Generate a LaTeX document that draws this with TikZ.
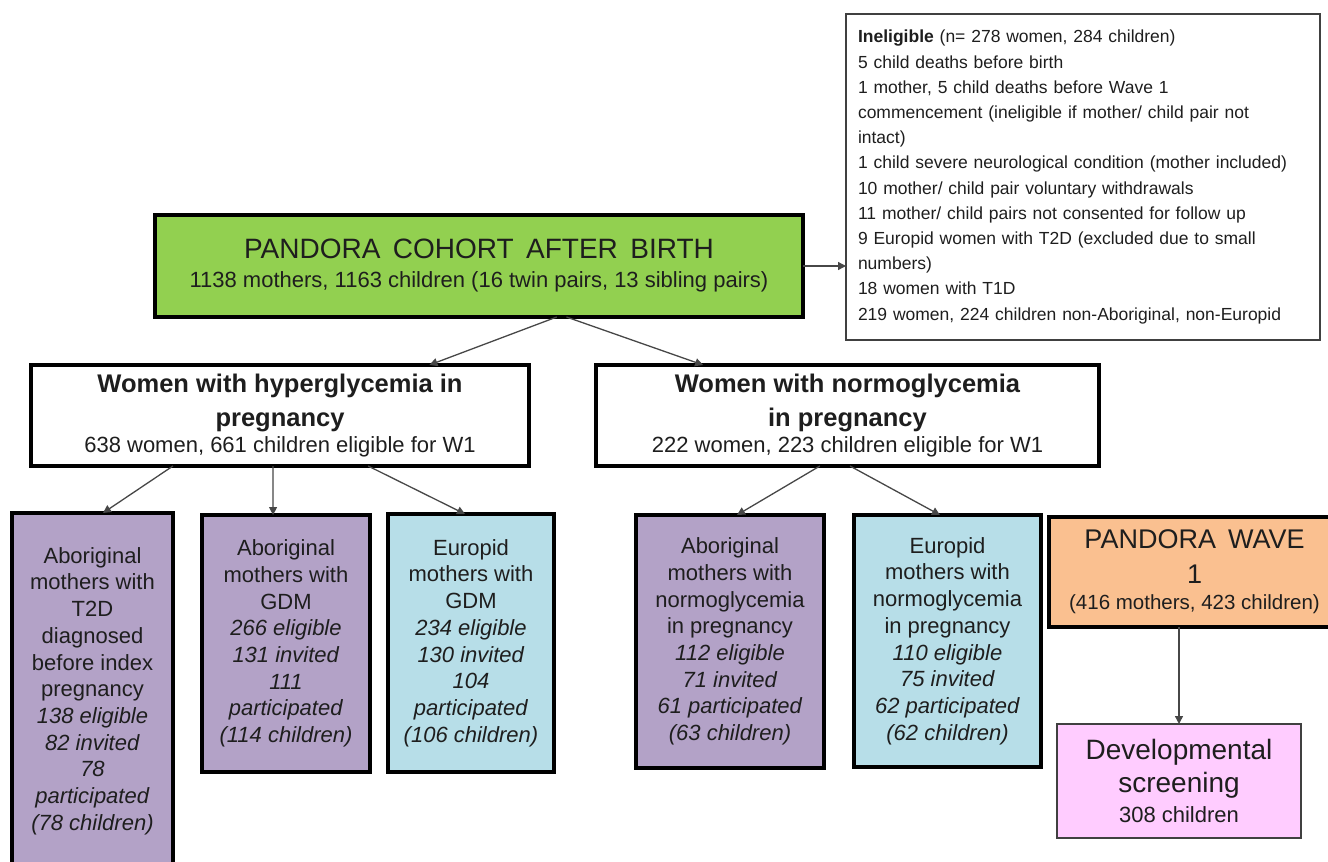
\documentclass[tikz,border=0pt]{standalone}
\usepackage{fontspec}
\setmainfont{Liberation Sans}
\usetikzlibrary{arrows.meta,calc}
\definecolor{cgreen}{HTML}{92D050}
\definecolor{cpurple}{HTML}{B3A2C7}
\definecolor{cblue}{HTML}{B7DEE8}
\definecolor{corange}{HTML}{FAC090}
\definecolor{cpink}{HTML}{FFCCFF}
\definecolor{ctext}{HTML}{1E1E1E}
\newcommand\fBox{\fontsize{22}{26.7}\selectfont}
\newcommand\fHead{\fontsize{25.5}{34}\selectfont\bfseries}
\newcommand\fSub{\fontsize{22}{34}\selectfont\mdseries}
\newcommand\fInel{\fontsize{17.5}{25.2}\selectfont\spaceskip=7.8pt plus 1pt minus 1pt\relax}
\begin{document}
\begin{tikzpicture}[x=1pt,y=-1pt,
  thickbox/.style={draw=black, line width=3.6pt, inner sep=0pt, outer sep=0pt, align=center, text=ctext},
  thinbox/.style={draw=black!75, line width=1.4pt, inner sep=0pt, outer sep=0pt, align=center, text=ctext},
  lowbox/.style={thickbox, font=\fBox},
  conn/.style={draw=black!72, line width=1.3pt, -{Triangle[length=8pt,width=8pt]}}]
\useasboundingbox (0,0) rectangle (1328,862);
\clip (0,0) rectangle (1328,862);

% ineligible box
\node[thinbox, align=left, minimum width=474pt, minimum height=326pt, text width=450pt, inner xsep=12pt,
  font=\fInel] (inelig) at (1083,177)
 {\textbf{Ineligible} (n= 278 women, 284 children)\\
  5 child deaths before birth\\
  1 mother, 5 child deaths before Wave 1\\
  commencement (ineligible if mother/ child pair not\\
  intact)\\
  1 child severe neurological condition (mother included)\\
  10 mother/ child pair voluntary withdrawals\\
  11 mother/ child pairs not consented for follow up\\
  9 Europid women with T2D (excluded due to small\\
  numbers)\\
  18 women with T1D\\
  219 women, 224 children non-Aboriginal, non-Europid};

% cohort
\node[thickbox, fill=cgreen, minimum width=648pt, minimum height=102pt,
  font=\fontsize{28}{29}\selectfont] (cohort) at (479,266)
 {PANDORA\, COHORT\, AFTER\, BIRTH\\
  \fontsize{22}{29}\selectfont 1138 mothers, 1163 children (16 twin pairs, 13 sibling pairs)};

% second level
\node[thickbox, fill=white, minimum width=498pt, minimum height=101pt, font=\fHead] (hyper) at (280,415.5)
 {\fHead Women with hyperglycemia in\\ \fHead pregnancy\\[-8pt] \fSub 638 women, 661 children eligible for W1};
\node[thickbox, fill=white, minimum width=503pt, minimum height=101pt, font=\fHead] (normo) at (847.5,415.5)
 {\fHead Women with normoglycemia\\ \fHead in pregnancy\\[-8pt] \fSub 222 women, 223 children eligible for W1};

% third level
\node[lowbox, fill=cpurple, minimum width=161pt, minimum height=356pt] (b1) at (92.5,691)
 {Aboriginal\\ mothers with\\ T2D\\ diagnosed\\ before index\\ pregnancy\\ \textit{138 eligible}\\ \textit{82 invited}\\ \textit{78}\\ \textit{participated}\\ \textit{(78 children)}};
\node[lowbox, fill=cpurple, minimum width=168pt, minimum height=257pt] (b2) at (286,643.5)
 {Aboriginal\\ mothers with\\ GDM\\ \textit{266 eligible}\\ \textit{131 invited}\\ \textit{111}\\ \textit{participated}\\ \textit{(114 children)}};
\node[lowbox, fill=cblue, minimum width=166pt, minimum height=258pt] (b3) at (471,643)
 {Europid\\ mothers with\\ GDM\\ \textit{234 eligible}\\ \textit{130 invited}\\ \textit{104}\\ \textit{participated}\\ \textit{(106 children)}};
\node[lowbox, fill=cpurple, minimum width=188pt, minimum height=253pt] (b4) at (730,641.5)
 {Aboriginal\\ mothers with\\ normoglycemia\\ in pregnancy\\ \textit{112 eligible}\\ \textit{71 invited}\\ \textit{61 participated}\\ \textit{(63 children)}};
\node[lowbox, fill=cblue, minimum width=187pt, minimum height=252pt] (b5) at (947.5,641)
 {Europid\\ mothers with\\ normoglycemia\\ in pregnancy\\ \textit{110 eligible}\\ \textit{75 invited}\\ \textit{62 participated}\\ \textit{(62 children)}};

% wave 1
\node[thickbox, fill=corange, minimum width=291pt, minimum height=110pt,
  font=\fontsize{27}{35}\selectfont] (wave) at (1194.5,572)
 {PANDORA\, WAVE\\ 1\\[-9pt] \fontsize{20.5}{35}\selectfont (416 mothers, 423 children)};
\node[thinbox, fill=cpink, minimum width=244pt, minimum height=114pt,
  font=\fontsize{28}{33}\selectfont] (dev) at (1179,781)
 {Developmental\\ screening\\[-3pt] \fontsize{22}{33}\selectfont 308 children};

% connectors
\draw[conn] (cohort.east) -- (cohort.east -| inelig.west);
\draw[conn] ($(cohort.south west)!0.62!(cohort.south east)$) -- ($(hyper.north west)!0.80!(hyper.north east)$);
\draw[conn] ($(cohort.south west)!0.635!(cohort.south east)$) -- ($(normo.north west)!0.213!(normo.north east)$);
\draw[conn] ($(hyper.south west)!0.285!(hyper.south east)$) -- ($(b1.north west)!0.565!(b1.north east)$);
\draw[conn] ($(hyper.south west)!0.486!(hyper.south east)$) -- ($(b2.north west)!0.423!(b2.north east)$);
\draw[conn] ($(hyper.south west)!0.677!(hyper.south east)$) -- ($(b3.north west)!0.464!(b3.north east)$);
\draw[conn] ($(normo.south west)!0.445!(normo.south east)$) -- ($(b4.north west)!0.537!(b4.north east)$);
\draw[conn] ($(normo.south west)!0.505!(normo.south east)$) -- ($(b5.north west)!0.46!(b5.north east)$);
\draw[conn] (dev.north |- wave.south) -- (dev.north);
\end{tikzpicture}
\end{document}
